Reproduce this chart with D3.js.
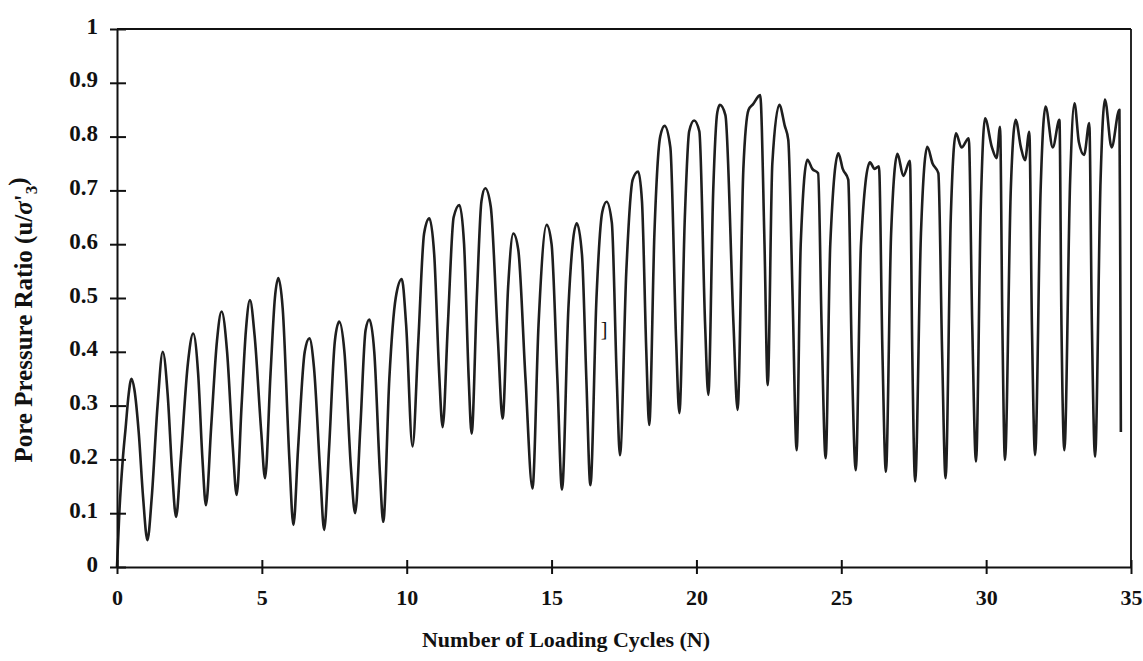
<!DOCTYPE html>
<html>
<head>
<meta charset="utf-8">
<script src="https://cdn.jsdelivr.net/npm/d3@7"></script>
<style>
body { margin: 0; background: #fff; }
text { font-family: "Liberation Serif", "Times New Roman", serif; font-weight: bold; fill: #111; }
</style>
</head>
<body>
<div id="chart"></div>
<script>
// loading cycle N and pore pressure ratio u/s'3
var cycleN = [
    0.00, 0.08, 0.20, 0.30, 0.40, 0.50, 0.60, 0.75, 0.90, 1.05,
    1.20, 1.40, 1.58, 1.75, 1.90, 2.04, 2.20, 2.45, 2.63, 2.80,
    2.95, 3.07, 3.25, 3.45, 3.61, 3.80, 4.00, 4.13, 4.30, 4.45,
    4.59, 4.75, 4.98, 5.11, 5.30, 5.45, 5.57, 5.72, 5.95, 6.09,
    6.25, 6.48, 6.64, 6.80, 7.02, 7.15, 7.32, 7.52, 7.67, 7.85,
    8.08, 8.22, 8.40, 8.58, 8.71, 8.88, 9.08, 9.19, 9.40, 9.62,
    9.83, 9.98, 10.20, 10.40, 10.60, 10.78, 10.95, 11.12, 11.24, 11.42,
    11.62, 11.82, 11.98, 12.14, 12.24, 12.42, 12.58, 12.71, 12.90, 13.15,
    13.31, 13.50, 13.68, 13.85, 14.10, 14.34, 14.55, 14.83, 15.00, 15.20,
    15.36, 15.58, 15.87, 16.05, 16.20, 16.34, 16.55, 16.75, 16.90, 17.08,
    17.25, 17.36, 17.58, 17.80, 17.99, 18.12, 18.27, 18.37, 18.55, 18.75,
    18.90, 19.10, 19.30, 19.41, 19.60, 19.75, 19.92, 20.10, 20.30, 20.41,
    20.58, 20.72, 20.81, 21.00, 21.28, 21.42, 21.62, 21.80, 21.95, 22.20,
    22.35, 22.46, 22.62, 22.86, 23.05, 23.17, 23.32, 23.46, 23.60, 23.83,
    24.00, 24.20, 24.32, 24.46, 24.62, 24.90, 25.05, 25.24, 25.36, 25.50,
    25.68, 25.99, 26.15, 26.30, 26.42, 26.54, 26.72, 26.94, 27.14, 27.37,
    27.45, 27.55, 27.75, 27.97, 28.15, 28.35, 28.48, 28.60, 28.78, 28.96,
    29.15, 29.40, 29.52, 29.65, 29.82, 29.96, 30.20, 30.36, 30.48, 30.56,
    30.65, 30.85, 31.02, 31.20, 31.34, 31.49, 31.58, 31.69, 31.88, 32.05,
    32.30, 32.53, 32.60, 32.70, 32.90, 33.05, 33.20, 33.38, 33.56, 33.65,
    33.76, 33.95, 34.10, 34.33, 34.60, 34.63, 34.65
];
var poreRatio = [
    0.000, 0.100, 0.200, 0.260, 0.320, 0.350, 0.330, 0.250, 0.130, 0.050,
    0.130, 0.300, 0.400, 0.320, 0.180, 0.093, 0.200, 0.380, 0.434, 0.360,
    0.200, 0.115, 0.260, 0.420, 0.475, 0.400, 0.220, 0.134, 0.300, 0.440,
    0.496, 0.430, 0.250, 0.165, 0.360, 0.500, 0.537, 0.480, 0.200, 0.078,
    0.220, 0.400, 0.425, 0.370, 0.170, 0.069, 0.220, 0.420, 0.456, 0.400,
    0.180, 0.100, 0.260, 0.440, 0.460, 0.400, 0.170, 0.084, 0.350, 0.500,
    0.535, 0.450, 0.224, 0.420, 0.620, 0.648, 0.580, 0.360, 0.260, 0.450,
    0.650, 0.673, 0.600, 0.350, 0.248, 0.500, 0.680, 0.704, 0.670, 0.420,
    0.276, 0.520, 0.620, 0.590, 0.350, 0.146, 0.450, 0.636, 0.600, 0.350,
    0.144, 0.480, 0.639, 0.580, 0.350, 0.152, 0.500, 0.660, 0.679, 0.640,
    0.350, 0.208, 0.550, 0.720, 0.735, 0.680, 0.400, 0.264, 0.620, 0.800,
    0.820, 0.780, 0.420, 0.286, 0.650, 0.810, 0.830, 0.810, 0.450, 0.320,
    0.700, 0.845, 0.859, 0.840, 0.450, 0.292, 0.740, 0.850, 0.860, 0.877,
    0.600, 0.338, 0.750, 0.859, 0.820, 0.794, 0.500, 0.217, 0.600, 0.757,
    0.740, 0.732, 0.450, 0.202, 0.600, 0.769, 0.740, 0.720, 0.400, 0.180,
    0.600, 0.752, 0.740, 0.745, 0.400, 0.177, 0.620, 0.768, 0.727, 0.755,
    0.400, 0.159, 0.620, 0.781, 0.750, 0.732, 0.400, 0.165, 0.650, 0.806,
    0.780, 0.797, 0.450, 0.196, 0.680, 0.834, 0.780, 0.760, 0.818, 0.450,
    0.199, 0.700, 0.831, 0.780, 0.756, 0.809, 0.450, 0.208, 0.700, 0.856,
    0.780, 0.831, 0.450, 0.217, 0.720, 0.862, 0.790, 0.766, 0.825, 0.450,
    0.205, 0.720, 0.869, 0.780, 0.850, 0.550, 0.251
];
var xTicks = [0, 5, 10, 15, 20, 25, 30, 35];
var yTicks = [0, 0.1, 0.2, 0.3, 0.4, 0.5, 0.6, 0.7, 0.8, 0.9, 1];
var yTickLabels = ["0", "0.1", "0.2", "0.3", "0.4", "0.5", "0.6", "0.7", "0.8", "0.9", "1"];

function init() {
    var W = 1143, H = 661;
    var margin = {top: 29, right: 12, bottom: 94, left: 117},
        w = W - margin.left - margin.right,
        h = H - margin.top - margin.bottom;

    var dataset = cycleN.map(function(n, i) {
        return {n: n, u: poreRatio[i]};
    });

    var xScale = d3.scaleLinear().domain([0, 35]).range([0, w]);
    var yScale = d3.scaleLinear().domain([0, 1]).range([h, 0]);

    var svg = d3.select("#chart")
        .append("svg")
        .attr("width", W)
        .attr("height", H)
        .append("g")
        .attr("transform", `translate(${margin.left}, ${margin.top})`);

    // frame, top and right
    svg.append("line")
        .attr("x1", xScale(0)).attr("x2", xScale(35))
        .attr("y1", yScale(1)).attr("y2", yScale(1))
        .attr("stroke", "#111").attr("stroke-width", 1.8);
    svg.append("line")
        .attr("x1", xScale(35)).attr("x2", xScale(35))
        .attr("y1", yScale(1)).attr("y2", yScale(0))
        .attr("stroke", "#111").attr("stroke-width", 1.8);

    var line = d3.line()
        .x(d => xScale(d.n))
        .y(d => yScale(d.u))
        .curve(d3.curveMonotoneX);

    svg.append("path")
        .datum(dataset)
        .attr("d", line)
        .attr("fill", "none")
        .attr("stroke", "#1e1e1e")
        .attr("stroke-width", 2.6)
        .attr("stroke-linejoin", "round");

    // x axis, ticks crossing the line
    var gx = svg.append("g")
        .attr("transform", `translate(0, ${h})`)
        .call(d3.axisBottom(xScale).tickValues(xTicks).tickSizeInner(7).tickSizeOuter(0).tickPadding(15));
    svg.append("g")
        .attr("transform", `translate(0, ${h})`)
        .call(d3.axisTop(xScale).tickValues(xTicks).tickSizeInner(7).tickSizeOuter(0).tickFormat(""))
        .select(".domain").remove();

    // y axis
    var gy = svg.append("g")
        .call(d3.axisLeft(yScale).tickValues(yTicks)
            .tickFormat(function(d, i) { return yTickLabels[i]; })
            .tickSizeInner(7).tickSizeOuter(0).tickPadding(12));
    svg.append("g")
        .call(d3.axisRight(yScale).tickValues(yTicks).tickSizeInner(9).tickSizeOuter(0).tickFormat(""))
        .select(".domain").remove();

    svg.selectAll(".domain, .tick line")
        .attr("stroke", "#111")
        .attr("stroke-width", 2);

    gx.selectAll("text")
        .attr("fill", "#111")
        .style("font-size", "22px");
    gy.selectAll("text")
        .attr("fill", "#111")
        .attr("dy", "0.18em")
        .style("font-size", "23px");

    // stray bracket mark in the plot
    svg.append("text")
        .attr("x", xScale(16.7))
        .attr("y", yScale(0.43))
        .style("font-weight", "normal")
        .style("font-size", "20px")
        .text("]");

    svg.append("text")
        .attr("x", 449)
        .attr("y", h + 80)
        .style("text-anchor", "middle")
        .style("font-size", "22px")
        .text("Number of Loading Cycles (N)");

    var yt = svg.append("text")
        .attr("transform", `translate(${-margin.left + 32}, ${h / 2 + 22}) rotate(-90)`)
        .style("text-anchor", "middle")
        .style("font-size", "25px");
    yt.append("tspan").text("Pore Pressure Ratio (u/");
    yt.append("tspan").style("font-style", "italic").text("σ");
    yt.append("tspan").text("'");
    yt.append("tspan").attr("dy", "0.3em").style("font-size", "17px").text("3");
    yt.append("tspan").attr("dy", "-0.45em").text(")");
}

window.onload = init;
</script>
</body>
</html>
